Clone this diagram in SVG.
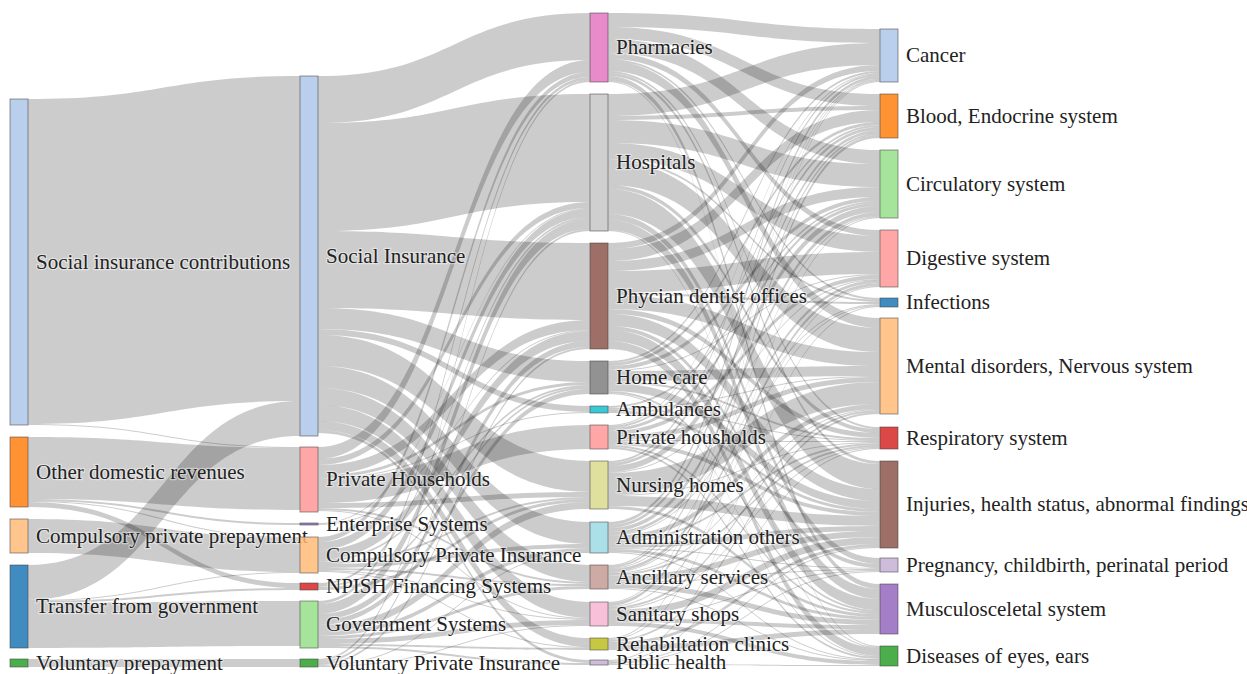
<svg xmlns="http://www.w3.org/2000/svg" width="1247" height="674" viewBox="0 0 1247 674" font-family="'Liberation Serif', 'DejaVu Serif', serif">
<style>
.l{fill:rgba(0,0,0,0.2);stroke:none}
.n rect{fill-opacity:.85;stroke:#444;stroke-opacity:.55;stroke-width:1}
.n text{font-family:'Liberation Serif','DejaVu Serif',serif;font-size:21px;fill:#222;stroke:#fff;stroke-width:2.5px;stroke-opacity:.45;paint-order:stroke;stroke-linejoin:round}
</style>
<rect width="1247" height="674" fill="#fff"/>
<g id="links">
<path class="l" d="M28,99C164,99 164,76 300,76L300,401C164,401 164,424 28,424Z"/>
<path class="l" d="M28,424C164,424 164,447 300,447L300,448C164,448 164,425 28,425Z"/>
<path class="l" d="M28,437C164,437 164,448 300,448L300,510C164,510 164,499 28,499Z"/>
<path class="l" d="M28,499C164,499 164,523 300,523L300,525C164,525 164,501 28,501Z"/>
<path class="l" d="M28,501C164,501 164,537 300,537L300,538C164,538 164,502 28,502Z"/>
<path class="l" d="M28,502C164,502 164,583 300,583L300,588C164,588 164,507 28,507Z"/>
<path class="l" d="M28,519C164,519 164,538 300,538L300,572C164,572 164,553 28,553Z"/>
<path class="l" d="M28,565C164,565 164,401 300,401L300,436C164,436 164,600 28,600Z"/>
<path class="l" d="M28,600C164,600 164,572 300,572L300,573C164,573 164,601 28,601Z"/>
<path class="l" d="M28,601C164,601 164,588 300,588L300,590C164,590 164,603 28,603Z"/>
<path class="l" d="M28,603C164,603 164,601 300,601L300,646C164,646 164,648 28,648Z"/>
<path class="l" d="M28,659C164,659 164,659 300,659L300,667C164,667 164,667 28,667Z"/>

<path class="l" d="M318,76C454,76 454,13 590,13L590,60C454,60 454,123 318,123Z"/>
<path class="l" d="M318,123C454,123 454,94 590,94L590,202C454,202 454,231 318,231Z"/>
<path class="l" d="M318,231C454,231 454,243 590,243L590,320C454,320 454,308 318,308Z"/>
<path class="l" d="M318,308C454,308 454,361 590,361L590,382C454,382 454,329 318,329Z"/>
<path class="l" d="M318,329C454,329 454,406 590,406L590,412C454,412 454,335 318,335Z"/>
<path class="l" d="M318,335C454,335 454,461 590,461L590,492C454,492 454,366 318,366Z"/>
<path class="l" d="M318,366C454,366 454,522 590,522L590,544C454,544 454,388 318,388Z"/>
<path class="l" d="M318,388C454,388 454,565 590,565L590,582C454,582 454,405 318,405Z"/>
<path class="l" d="M318,405C454,405 454,602 590,602L590,618C454,618 454,421 318,421Z"/>
<path class="l" d="M318,421C454,421 454,638 590,638L590,647C454,647 454,430 318,430Z"/>
<path class="l" d="M318,430C454,430 454,660 590,660L590,663C454,663 454,433 318,433Z"/>
<path class="l" d="M318,447C454,447 454,60 590,60L590,72C454,72 454,459 318,459Z"/>
<path class="l" d="M318,459C454,459 454,202 590,202L590,208C454,208 454,465 318,465Z"/>
<path class="l" d="M318,465C454,465 454,320 590,320L590,330C454,330 454,475 318,475Z"/>
<path class="l" d="M318,475C454,475 454,382 590,382L590,385C454,385 454,478 318,478Z"/>
<path class="l" d="M318,478C454,478 454,412 590,412L590,413C454,413 454,479 318,479Z"/>
<path class="l" d="M318,479C454,479 454,425 590,425L590,449C454,449 454,503 318,503Z"/>
<path class="l" d="M318,503C454,503 454,492 590,492L590,497C454,497 454,508 318,508Z"/>
<path class="l" d="M318,508C454,508 454,582 590,582L590,584C454,584 454,510 318,510Z"/>
<path class="l" d="M318,510C454,510 454,618 590,618L590,619C454,619 454,511 318,511Z"/>
<path class="l" d="M318,523C454,523 454,208 590,208L590,209C454,209 454,524 318,524Z"/>
<path class="l" d="M318,524C454,524 454,330 590,330L590,331C454,331 454,525 318,525Z"/>
<path class="l" d="M318,537C454,537 454,72 590,72L590,77C454,77 454,542 318,542Z"/>
<path class="l" d="M318,542C454,542 454,209 590,209L590,217C454,217 454,550 318,550Z"/>
<path class="l" d="M318,550C454,550 454,331 590,331L590,341C454,341 454,560 318,560Z"/>
<path class="l" d="M318,560C454,560 454,385 590,385L590,387C454,387 454,562 318,562Z"/>
<path class="l" d="M318,562C454,562 454,497 590,497L590,499C454,499 454,564 318,564Z"/>
<path class="l" d="M318,564C454,564 454,544 590,544L590,548C454,548 454,568 318,568Z"/>
<path class="l" d="M318,568C454,568 454,584 590,584L590,586C454,586 454,570 318,570Z"/>
<path class="l" d="M318,570C454,570 454,619 590,619L590,620C454,620 454,571 318,571Z"/>
<path class="l" d="M318,571C454,571 454,647 590,647L590,648C454,648 454,572 318,572Z"/>
<path class="l" d="M318,583C454,583 454,217 590,217L590,219C454,219 454,585 318,585Z"/>
<path class="l" d="M318,585C454,585 454,387 590,387L590,389C454,389 454,587 318,587Z"/>
<path class="l" d="M318,587C454,587 454,499 590,499L590,502C454,502 454,590 318,590Z"/>
<path class="l" d="M318,601C454,601 454,77 590,77L590,80C454,80 454,604 318,604Z"/>
<path class="l" d="M318,604C454,604 454,219 590,219L590,229C454,229 454,614 318,614Z"/>
<path class="l" d="M318,614C454,614 454,341 590,341L590,347C454,347 454,620 318,620Z"/>
<path class="l" d="M318,620C454,620 454,389 590,389L590,394C454,394 454,625 318,625Z"/>
<path class="l" d="M318,625C454,625 454,502 590,502L590,509C454,509 454,632 318,632Z"/>
<path class="l" d="M318,632C454,632 454,548 590,548L590,552C454,552 454,636 318,636Z"/>
<path class="l" d="M318,636C454,636 454,586 590,586L590,589C454,589 454,639 318,639Z"/>
<path class="l" d="M318,639C454,639 454,620 590,620L590,625C454,625 454,644 318,644Z"/>
<path class="l" d="M318,644C454,644 454,648 590,648L590,650C454,650 454,646 318,646Z"/>
<path class="l" d="M318,646C454,646 454,663 590,663L590,665C454,665 454,648 318,648Z"/>
<path class="l" d="M318,659C454,659 454,80 590,80L590,82C454,82 454,661 318,661Z"/>
<path class="l" d="M318,661C454,661 454,229 590,229L590,231C454,231 454,663 318,663Z"/>
<path class="l" d="M318,663C454,663 454,347 590,347L590,349C454,349 454,665 318,665Z"/>
<path class="l" d="M318,665C454,665 454,552 590,552L590,553C454,553 454,666 318,666Z"/>
<path class="l" d="M318,666C454,666 454,625 590,625L590,626C454,626 454,667 318,667Z"/>

<path class="l" d="M608,13C744,13 744,29 880,29L880,43C744,43 744,27 608,27Z"/>
<path class="l" d="M608,27C744,27 744,94 880,94L880,106C744,106 744,39 608,39Z"/>
<path class="l" d="M608,39C744,39 744,150 880,150L880,164C744,164 744,53 608,53Z"/>
<path class="l" d="M608,53C744,53 744,230 880,230L880,236C744,236 744,59 608,59Z"/>
<path class="l" d="M608,59C744,59 744,298 880,298L880,300C744,300 744,61 608,61Z"/>
<path class="l" d="M608,61C744,61 744,318 880,318L880,328C744,328 744,71 608,71Z"/>
<path class="l" d="M608,71C744,71 744,427 880,427L880,429C744,429 744,73 608,73Z"/>
<path class="l" d="M608,73C744,73 744,461 880,461L880,464C744,464 744,76 608,76Z"/>
<path class="l" d="M608,76C744,76 744,584 880,584L880,589C744,589 744,81 608,81Z"/>
<path class="l" d="M608,81C744,81 744,646 880,646L880,647C744,647 744,82 608,82Z"/>

<path class="l" d="M608,94C744,94 744,43 880,43L880,65C744,65 744,116 608,116Z"/>
<path class="l" d="M608,116C744,116 744,106 880,106L880,110C744,110 744,120 608,120Z"/>
<path class="l" d="M608,120C744,120 744,164 880,164L880,187C744,187 744,143 608,143Z"/>
<path class="l" d="M608,143C744,143 744,236 880,236L880,252C744,252 744,159 608,159Z"/>
<path class="l" d="M608,159C744,159 744,300 880,300L880,302C744,302 744,161 608,161Z"/>
<path class="l" d="M608,161C744,161 744,328 880,328L880,352C744,352 744,185 608,185Z"/>
<path class="l" d="M608,185C744,185 744,429 880,429L880,433C744,433 744,189 608,189Z"/>
<path class="l" d="M608,189C744,189 744,464 880,464L880,489C744,489 744,214 608,214Z"/>
<path class="l" d="M608,214C744,214 744,558 880,558L880,564C744,564 744,220 608,220Z"/>
<path class="l" d="M608,220C744,220 744,589 880,589L880,599C744,599 744,230 608,230Z"/>
<path class="l" d="M608,230C744,230 744,647 880,647L880,648C744,648 744,231 608,231Z"/>

<path class="l" d="M608,243C744,243 744,65 880,65L880,71C744,71 744,249 608,249Z"/>
<path class="l" d="M608,249C744,249 744,110 880,110L880,122C744,122 744,261 608,261Z"/>
<path class="l" d="M608,261C744,261 744,187 880,187L880,197C744,197 744,271 608,271Z"/>
<path class="l" d="M608,271C744,271 744,252 880,252L880,274C744,274 744,293 608,293Z"/>
<path class="l" d="M608,293C744,293 744,302 880,302L880,304C744,304 744,295 608,295Z"/>
<path class="l" d="M608,295C744,295 744,352 880,352L880,366C744,366 744,309 608,309Z"/>
<path class="l" d="M608,309C744,309 744,433 880,433L880,438C744,438 744,314 608,314Z"/>
<path class="l" d="M608,314C744,314 744,489 880,489L880,501C744,501 744,326 608,326Z"/>
<path class="l" d="M608,326C744,326 744,564 880,564L880,568C744,568 744,330 608,330Z"/>
<path class="l" d="M608,330C744,330 744,599 880,599L880,610C744,610 744,341 608,341Z"/>
<path class="l" d="M608,341C744,341 744,648 880,648L880,656C744,656 744,349 608,349Z"/>

<path class="l" d="M608,361C744,361 744,71 880,71L880,73C744,73 744,363 608,363Z"/>
<path class="l" d="M608,363C744,363 744,122 880,122L880,125C744,125 744,366 608,366Z"/>
<path class="l" d="M608,366C744,366 744,197 880,197L880,201C744,201 744,370 608,370Z"/>
<path class="l" d="M608,370C744,370 744,274 880,274L880,275C744,275 744,371 608,371Z"/>
<path class="l" d="M608,371C744,371 744,366 880,366L880,376C744,376 744,381 608,381Z"/>
<path class="l" d="M608,381C744,381 744,438 880,438L880,440C744,440 744,383 608,383Z"/>
<path class="l" d="M608,383C744,383 744,501 880,501L880,509C744,509 744,391 608,391Z"/>
<path class="l" d="M608,391C744,391 744,610 880,610L880,612C744,612 744,393 608,393Z"/>
<path class="l" d="M608,393C744,393 744,656 880,656L880,657C744,657 744,394 608,394Z"/>

<path class="l" d="M608,406C744,406 744,201 880,201L880,203C744,203 744,408 608,408Z"/>
<path class="l" d="M608,408C744,408 744,376 880,376L880,377C744,377 744,409 608,409Z"/>
<path class="l" d="M608,409C744,409 744,440 880,440L880,441C744,441 744,410 608,410Z"/>
<path class="l" d="M608,410C744,410 744,509 880,509L880,512C744,512 744,413 608,413Z"/>

<path class="l" d="M608,425C744,425 744,73 880,73L880,74C744,74 744,426 608,426Z"/>
<path class="l" d="M608,426C744,426 744,125 880,125L880,127C744,127 744,428 608,428Z"/>
<path class="l" d="M608,428C744,428 744,203 880,203L880,206C744,206 744,431 608,431Z"/>
<path class="l" d="M608,431C744,431 744,275 880,275L880,279C744,279 744,435 608,435Z"/>
<path class="l" d="M608,435C744,435 744,377 880,377L880,382C744,382 744,440 608,440Z"/>
<path class="l" d="M608,440C744,440 744,441 880,441L880,442C744,442 744,441 608,441Z"/>
<path class="l" d="M608,441C744,441 744,512 880,512L880,516C744,516 744,445 608,445Z"/>
<path class="l" d="M608,445C744,445 744,612 880,612L880,614C744,614 744,447 608,447Z"/>
<path class="l" d="M608,447C744,447 744,657 880,657L880,659C744,659 744,449 608,449Z"/>

<path class="l" d="M608,461C744,461 744,74 880,74L880,76C744,76 744,463 608,463Z"/>
<path class="l" d="M608,463C744,463 744,127 880,127L880,130C744,130 744,466 608,466Z"/>
<path class="l" d="M608,466C744,466 744,206 880,206L880,212C744,212 744,472 608,472Z"/>
<path class="l" d="M608,472C744,472 744,279 880,279L880,280C744,280 744,473 608,473Z"/>
<path class="l" d="M608,473C744,473 744,382 880,382L880,404C744,404 744,495 608,495Z"/>
<path class="l" d="M608,495C744,495 744,442 880,442L880,443C744,443 744,496 608,496Z"/>
<path class="l" d="M608,496C744,496 744,516 880,516L880,526C744,526 744,506 608,506Z"/>
<path class="l" d="M608,506C744,506 744,614 880,614L880,617C744,617 744,509 608,509Z"/>

<path class="l" d="M608,522C744,522 744,76 880,76L880,79C744,79 744,525 608,525Z"/>
<path class="l" d="M608,525C744,525 744,130 880,130L880,133C744,133 744,528 608,528Z"/>
<path class="l" d="M608,528C744,528 744,212 880,212L880,216C744,216 744,532 608,532Z"/>
<path class="l" d="M608,532C744,532 744,280 880,280L880,283C744,283 744,535 608,535Z"/>
<path class="l" d="M608,535C744,535 744,304 880,304L880,305C744,305 744,536 608,536Z"/>
<path class="l" d="M608,536C744,536 744,404 880,404L880,409C744,409 744,541 608,541Z"/>
<path class="l" d="M608,541C744,541 744,443 880,443L880,445C744,445 744,543 608,543Z"/>
<path class="l" d="M608,543C744,543 744,526 880,526L880,531C744,531 744,548 608,548Z"/>
<path class="l" d="M608,548C744,548 744,568 880,568L880,569C744,569 744,549 608,549Z"/>
<path class="l" d="M608,549C744,549 744,617 880,617L880,620C744,620 744,552 608,552Z"/>
<path class="l" d="M608,552C744,552 744,659 880,659L880,660C744,660 744,553 608,553Z"/>

<path class="l" d="M608,565C744,565 744,79 880,79L880,80C744,80 744,566 608,566Z"/>
<path class="l" d="M608,566C744,566 744,133 880,133L880,135C744,135 744,568 608,568Z"/>
<path class="l" d="M608,568C744,568 744,216 880,216L880,217C744,217 744,569 608,569Z"/>
<path class="l" d="M608,569C744,569 744,283 880,283L880,286C744,286 744,572 608,572Z"/>
<path class="l" d="M608,572C744,572 744,305 880,305L880,306C744,306 744,573 608,573Z"/>
<path class="l" d="M608,573C744,573 744,409 880,409L880,410C744,410 744,574 608,574Z"/>
<path class="l" d="M608,574C744,574 744,445 880,445L880,447C744,447 744,576 608,576Z"/>
<path class="l" d="M608,576C744,576 744,531 880,531L880,537C744,537 744,582 608,582Z"/>
<path class="l" d="M608,582C744,582 744,569 880,569L880,570C744,570 744,583 608,583Z"/>
<path class="l" d="M608,583C744,583 744,620 880,620L880,625C744,625 744,588 608,588Z"/>
<path class="l" d="M608,588C744,588 744,660 880,660L880,661C744,661 744,589 608,589Z"/>

<path class="l" d="M608,602C744,602 744,80 880,80L880,81C744,81 744,603 608,603Z"/>
<path class="l" d="M608,603C744,603 744,135 880,135L880,138C744,138 744,606 608,606Z"/>
<path class="l" d="M608,606C744,606 744,286 880,286L880,287C744,287 744,607 608,607Z"/>
<path class="l" d="M608,607C744,607 744,410 880,410L880,412C744,412 744,609 608,609Z"/>
<path class="l" d="M608,609C744,609 744,447 880,447L880,448C744,448 744,610 608,610Z"/>
<path class="l" d="M608,610C744,610 744,537 880,537L880,544C744,544 744,617 608,617Z"/>
<path class="l" d="M608,617C744,617 744,570 880,570L880,571C744,571 744,618 608,618Z"/>
<path class="l" d="M608,618C744,618 744,625 880,625L880,629C744,629 744,622 608,622Z"/>
<path class="l" d="M608,622C744,622 744,661 880,661L880,665C744,665 744,626 608,626Z"/>

<path class="l" d="M608,638C744,638 744,81 880,81L880,82C744,82 744,639 608,639Z"/>
<path class="l" d="M608,639C744,639 744,217 880,217L880,218C744,218 744,640 608,640Z"/>
<path class="l" d="M608,640C744,640 744,412 880,412L880,414C744,414 744,642 608,642Z"/>
<path class="l" d="M608,642C744,642 744,544 880,544L880,547C744,547 744,645 608,645Z"/>
<path class="l" d="M608,645C744,645 744,629 880,629L880,634C744,634 744,650 608,650Z"/>

<path class="l" d="M608,660C744,660 744,306 880,306L880,307C744,307 744,661 608,661Z"/>
<path class="l" d="M608,661C744,661 744,448 880,448L880,449C744,449 744,662 608,662Z"/>
<path class="l" d="M608,662C744,662 744,547 880,547L880,548C744,548 744,663 608,663Z"/>
<path class="l" d="M608,663C744,663 744,571 880,571L880,572C744,572 744,664 608,664Z"/>
<path class="l" d="M608,664C744,664 744,665 880,665L880,666C744,666 744,665 608,665Z"/>
</g>

<g id="node-sic" class="n"><rect x="10" y="99" width="18" height="326" fill="#aec7e8"/><text x="36" y="269">Social insurance contributions</text></g>
<g id="node-odr" class="n"><rect x="10" y="437" width="18" height="70" fill="#ff7f0e"/><text x="36" y="479">Other domestic revenues</text></g>
<g id="node-cpp" class="n"><rect x="10" y="519" width="18" height="34" fill="#ffbb78"/><text x="36" y="543">Compulsory private prepayment</text></g>
<g id="node-tfg" class="n"><rect x="10" y="565" width="18" height="83" fill="#1f77b4"/><text x="36" y="613">Transfer from government</text></g>
<g id="node-vp" class="n"><rect x="10" y="659" width="18" height="8" fill="#2ca02c"/><text x="36" y="670">Voluntary prepayment</text></g>

<g id="node-si" class="n"><rect x="300" y="76" width="18" height="360" fill="#aec7e8"/><text x="326" y="263">Social Insurance</text></g>
<g id="node-ph" class="n"><rect x="300" y="447" width="18" height="65" fill="#ff9896"/><text x="326" y="486">Private Households</text></g>
<g id="node-es" class="n"><rect x="300" y="523" width="18" height="2" fill="#9467bd"/><text x="326" y="531">Enterprise Systems</text></g>
<g id="node-cpi" class="n"><rect x="300" y="537" width="18" height="36" fill="#ffbb78"/><text x="326" y="562">Compulsory Private Insurance</text></g>
<g id="node-npish" class="n"><rect x="300" y="583" width="18" height="7" fill="#d62728"/><text x="326" y="593">NPISH Financing Systems</text></g>
<g id="node-gs" class="n"><rect x="300" y="601" width="18" height="47" fill="#98df8a"/><text x="326" y="631">Government Systems</text></g>
<g id="node-vpi" class="n"><rect x="300" y="659" width="18" height="8" fill="#2ca02c"/><text x="326" y="670">Voluntary Private Insurance</text></g>

<g id="node-pharm" class="n"><rect x="590" y="13" width="18" height="69" fill="#e377c2"/><text x="616" y="54">Pharmacies</text></g>
<g id="node-hosp" class="n"><rect x="590" y="94" width="18" height="137" fill="#c7c7c7"/><text x="616" y="169">Hospitals</text></g>
<g id="node-phys" class="n"><rect x="590" y="243" width="18" height="106" fill="#8c564b"/><text x="616" y="303">Phycian dentist offices</text></g>
<g id="node-home" class="n"><rect x="590" y="361" width="18" height="33" fill="#7f7f7f"/><text x="616" y="384">Home care</text></g>
<g id="node-amb" class="n"><rect x="590" y="406" width="18" height="7" fill="#17becf"/><text x="616" y="416">Ambulances</text></g>
<g id="node-privh" class="n"><rect x="590" y="425" width="18" height="24" fill="#ff9896"/><text x="616" y="444">Private housholds</text></g>
<g id="node-nh" class="n"><rect x="590" y="461" width="18" height="48" fill="#dbdb8d"/><text x="616" y="492">Nursing homes</text></g>
<g id="node-admin" class="n"><rect x="590" y="522" width="18" height="31" fill="#9edae5"/><text x="616" y="544">Administration others</text></g>
<g id="node-anc" class="n"><rect x="590" y="565" width="18" height="24" fill="#c49c94"/><text x="616" y="584">Ancillary services</text></g>
<g id="node-san" class="n"><rect x="590" y="602" width="18" height="24" fill="#f7b6d2"/><text x="616" y="621">Sanitary shops</text></g>
<g id="node-rehab" class="n"><rect x="590" y="638" width="18" height="12" fill="#bcbd22"/><text x="616" y="651">Rehabiltation clinics</text></g>
<g id="node-pubh" class="n"><rect x="590" y="660" width="18" height="5" fill="#c5b0d5"/><text x="616" y="669">Public health</text></g>

<g id="node-cancer" class="n"><rect x="880" y="29" width="18" height="53" fill="#aec7e8"/><text x="906" y="62">Cancer</text></g>
<g id="node-blood" class="n"><rect x="880" y="94" width="18" height="44" fill="#ff7f0e"/><text x="906" y="123">Blood, Endocrine system</text></g>
<g id="node-circ" class="n"><rect x="880" y="150" width="18" height="68" fill="#98df8a"/><text x="906" y="191">Circulatory system</text></g>
<g id="node-dig" class="n"><rect x="880" y="230" width="18" height="57" fill="#ff9896"/><text x="906" y="265">Digestive system</text></g>
<g id="node-inf" class="n"><rect x="880" y="298" width="18" height="9" fill="#1f77b4"/><text x="906" y="309">Infections</text></g>
<g id="node-mental" class="n"><rect x="880" y="318" width="18" height="96" fill="#ffbb78"/><text x="906" y="373">Mental disorders, Nervous system</text></g>
<g id="node-resp" class="n"><rect x="880" y="427" width="18" height="22" fill="#d62728"/><text x="906" y="445">Respiratory system</text></g>
<g id="node-inj" class="n"><rect x="880" y="461" width="18" height="87" fill="#8c564b"/><text x="906" y="511">Injuries, health status, abnormal findings</text></g>
<g id="node-preg" class="n"><rect x="880" y="558" width="18" height="14" fill="#c5b0d5"/><text x="906" y="572">Pregnancy, childbirth, perinatal period</text></g>
<g id="node-musc" class="n"><rect x="880" y="584" width="18" height="50" fill="#9467bd"/><text x="906" y="616">Musculosceletal system</text></g>
<g id="node-eyes" class="n"><rect x="880" y="646" width="18" height="20" fill="#2ca02c"/><text x="906" y="663">Diseases of eyes, ears</text></g>
</svg>
